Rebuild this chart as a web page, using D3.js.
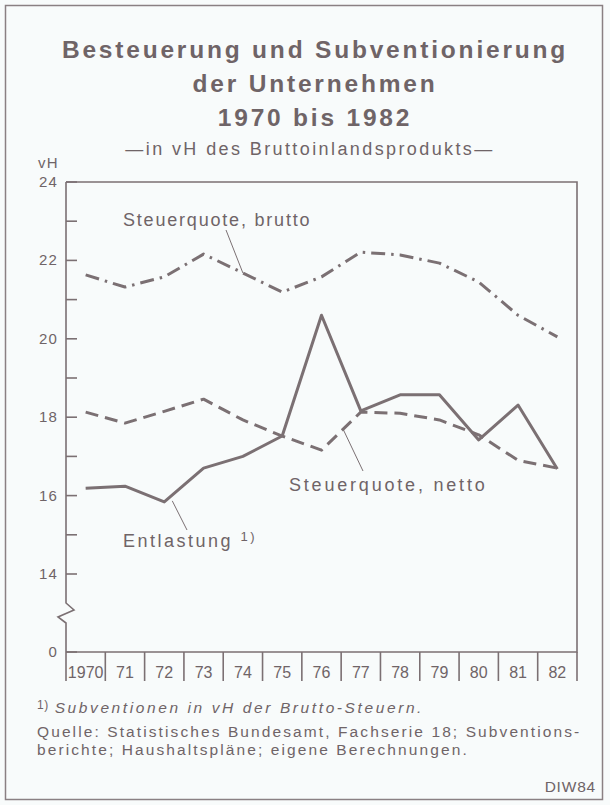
<!DOCTYPE html>
<html>
<head>
<meta charset="utf-8">
<title>Besteuerung und Subventionierung</title>
<style>
  body { margin: 0; background: #f8fbfb; }
  svg { display: block; }
  text { font-family: "Liberation Sans", Arial, sans-serif; fill: #6f6467; }
  .title { font-weight: bold; font-size: 24.5px; letter-spacing: 2.8px; }
  .sub { font-size: 18px; letter-spacing: 2.4px; }
  .tick { font-size: 15px; letter-spacing: 1.2px; }
  .lab { font-size: 18px; letter-spacing: 1.8px; }
  .note { font-size: 15.5px; letter-spacing: 2.1px; }
  .ser { fill: none; stroke: #7b7073; stroke-width: 3; stroke-linejoin: round; }
  .ax { stroke: #7b7073; stroke-width: 1.6; fill: none; }
  .lead { stroke: #7b7073; stroke-width: 1; }
</style>
</head>
<body>
<svg id="chart" width="610" height="805"></svg>
<script src="https://d3js.org/d3.v7.min.js"></script>
<script>
// data (vH)
const years = ["1970", "71", "72", "73", "74", "75", "76", "77", "78", "79", "80", "81", "82"];
const brutto = [21.63, 21.32, 21.58, 22.16, 21.68, 21.19, 21.58, 22.21, 22.14, 21.93, 21.45, 20.6, 20.05];
const netto = [18.13, 17.85, 18.15, 18.46, 17.93, 17.52, 17.16, 18.13, 18.10, 17.93, 17.55, 16.9, 16.7];
const entlastung = [16.19, 16.24, 15.84, 16.70, 17.0, 17.52, 20.6, 18.16, 18.57, 18.57, 17.42, 18.31, 16.68];
const majorTicks = [0, 14, 16, 18, 20, 22, 24];
const minorTicks = [15, 17, 19, 21, 23];

const svg = d3.select("#chart");
const pLeft = 66, pRight = 577, pTop = 182, pBottom = 652;

// frame
svg.append("rect").attr("x", 5.5).attr("y", 5.5).attr("width", 597).attr("height", 794)
    .attr("fill", "none").attr("stroke", "#8a8083").attr("stroke-width", 1.5);

// titles
const cx = 315;
[["Besteuerung und Subventionierung", 58], ["der Unternehmen", 92], ["1970 bis 1982", 126]].forEach(function(t) {
    svg.append("text").attr("class", "title").attr("x", cx).attr("y", t[1])
        .attr("text-anchor", "middle").text(t[0]);
});
svg.append("text").attr("class", "sub").attr("x", 310).attr("y", 155)
    .attr("text-anchor", "middle").text("\u2014in vH des Bruttoinlandsprodukts\u2014");

// scales (broken axis between 0 and 14)
const x = d3.scaleBand().domain(years).range([pLeft, pRight]);
const xc = function(d) { return x(d) + x.bandwidth() / 2; };
const y = d3.scaleLinear().domain([0, 14, 24]).range([pBottom, 574, pTop]);

// plot box
svg.append("path").attr("class", "ax")
    .attr("d", "M" + pLeft + "," + pTop + "H" + pRight + "V" + pBottom + "H" + pLeft);
// left axis with break
const brk = 603;
svg.append("path").attr("class", "ax")
    .attr("d", "M" + pLeft + "," + pTop + "V" + brk + "l8,7l-16,7l8,6V" + pBottom);

// y ticks
svg.selectAll(".maj").data(majorTicks).join("line").attr("class", "ax")
    .attr("x1", pLeft).attr("x2", pLeft + 11).attr("y1", y).attr("y2", y);
svg.selectAll(".min").data(minorTicks).join("line").attr("class", "ax")
    .attr("x1", pLeft).attr("x2", pLeft + 11).attr("y1", y).attr("y2", y);
svg.selectAll(".ylab").data(majorTicks).join("text").attr("class", "tick")
    .attr("x", 58).attr("y", function(d) { return y(d) + 5; })
    .attr("text-anchor", "end").text(function(d) { return d; });
svg.append("text").attr("class", "tick").attr("x", 38).attr("y", 168).text("vH");

// x dividers and labels
const bounds = years.map(function(d) { return x(d); }).concat([pRight]);
svg.selectAll(".div").data(bounds).join("line").attr("class", "ax")
    .attr("x1", function(d) { return d; }).attr("x2", function(d) { return d; })
    .attr("y1", pBottom).attr("y2", 681);
svg.selectAll(".xlab").data(years).join("text").attr("class", "tick")
    .attr("x", xc).attr("y", 678).attr("text-anchor", "middle")
    .style("font-size", "16px").style("letter-spacing", "0px").text(function(d) { return d; });

// series
const line = d3.line().x(function(d, i) { return xc(years[i]); }).y(function(d) { return y(d); });
svg.append("path").attr("class", "ser").attr("d", line(brutto))
    .attr("stroke-dasharray", "14 6 2.5 6");
svg.append("path").attr("class", "ser").attr("d", line(netto))
    .attr("stroke-dasharray", "13 7");
svg.append("path").attr("class", "ser").attr("d", line(entlastung));

// labels and leaders
svg.append("text").attr("class", "lab").attr("x", 123).attr("y", 226).text("Steuerquote, brutto");
svg.append("line").attr("class", "lead").attr("x1", 226).attr("y1", 230)
    .attr("x2", xc("74")).attr("y2", y(brutto[4]));

svg.append("text").attr("class", "lab").attr("x", 289).attr("y", 491)
    .style("letter-spacing", "2.8px").text("Steuerquote, netto");
const nx = xc("76") + 0.55 * x.bandwidth();
const ny = y(netto[6] + 0.55 * (netto[7] - netto[6]));
svg.append("line").attr("class", "lead").attr("x1", 363).attr("y1", 471).attr("x2", nx).attr("y2", ny);

const el = svg.append("text").attr("class", "lab").attr("x", 123).attr("y", 547)
    .style("letter-spacing", "2.5px");
el.append("tspan").text("Entlastung ");
el.append("tspan").attr("dy", -6).style("font-size", "13px").text("1)");
svg.append("line").attr("class", "lead").attr("x1", xc("72") + 8).attr("y1", y(entlastung[2]) - 1)
    .attr("x2", 187).attr("y2", 530);

// notes
const n1 = svg.append("text").attr("class", "note").attr("x", 37).attr("y", 713);
n1.append("tspan").attr("dy", -4).style("font-size", "12px").style("letter-spacing", "0.5px").text("1)");
n1.append("tspan").attr("dy", 4).attr("dx", 6).style("font-style", "italic")
    .style("letter-spacing", "2.6px").text("Subventionen in vH der Brutto-Steuern.");
svg.append("text").attr("class", "note").attr("x", 37).attr("y", 737)
    .text("Quelle: Statistisches Bundesamt, Fachserie 18; Subventions-");
svg.append("text").attr("class", "note").attr("x", 37).attr("y", 755)
    .text("berichte; Haushaltspl\u00e4ne; eigene Berechnungen.");
svg.append("text").attr("class", "note").attr("x", 596).attr("y", 792)
    .attr("text-anchor", "end").style("letter-spacing", "0.8px").text("DIW84");
</script>
</body>
</html>
